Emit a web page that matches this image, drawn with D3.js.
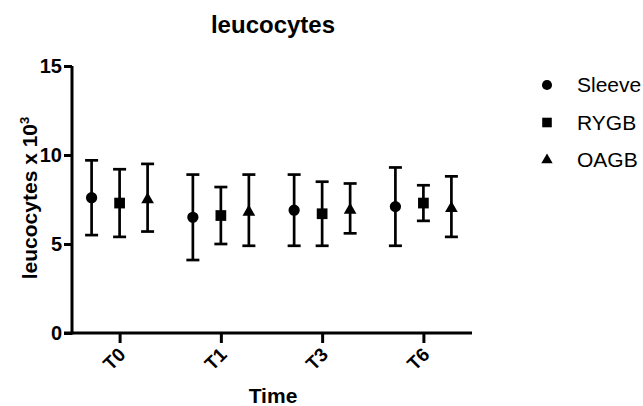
<!doctype html>
<html lang="en">
<head>
<meta charset="utf-8">
<script src="https://d3js.org/d3.v7.min.js"></script>
<title>leucocytes</title>
<style>
  body { margin: 0; background: #fff; }
  svg { display: block; font-family: "Liberation Sans", Arial, Helvetica, sans-serif; }
  .axis path, .axis line { stroke: #000; stroke-width: 3px; }
  .axis text { font-weight: bold; font-size: 20px; fill: #000; }
  .bar { stroke: #000; stroke-width: 2.7px; fill: none; }
</style>
</head>
<body>
<div id="chart"></div>
<script>
// data
const times = ['T0', 'T1', 'T3', 'T6'];
const groups = ['Sleeve', 'RYGB', 'OAGB'];
const sleeveMean = [7.6, 6.5, 6.9, 7.1];
const sleeveLow  = [5.5, 4.1, 4.9, 4.9];
const sleeveHigh = [9.7, 8.9, 8.9, 9.3];
const rygbMean = [7.3, 6.6, 6.7, 7.3];
const rygbLow  = [5.4, 5.0, 4.9, 6.3];
const rygbHigh = [9.2, 8.2, 8.5, 8.3];
const oagbMean = [7.5, 6.8, 6.9, 7.0];
const oagbLow  = [5.7, 4.9, 5.6, 5.4];
const oagbHigh = [9.5, 8.9, 8.4, 8.8];
const yTicks = [0, 5, 10, 15];

const series = [
  {name: 'Sleeve', mean: sleeveMean, low: sleeveLow, high: sleeveHigh, sym: d3.symbolCircle, size: 100},
  {name: 'RYGB', mean: rygbMean, low: rygbLow, high: rygbHigh, sym: d3.symbolSquare, size: 115},
  {name: 'OAGB', mean: oagbMean, low: oagbLow, high: oagbHigh, sym: d3.symbolTriangle, size: 70}
];

const width = 643, height = 406;
const svg = d3.select('#chart').append('svg')
  .attr('width', width).attr('height', height);

const x = d3.scalePoint().domain(times).range([72, 471]).padding(0.47);
const xg = d3.scalePoint().domain(groups).range([-28, 28]);
const y = d3.scaleLinear().domain([0, 15]).range([333, 66]);

svg.append('g')
  .attr('class', 'axis')
  .attr('transform', 'translate(72,0)')
  .call(d3.axisLeft(y).tickValues(yTicks).tickSize(8).tickPadding(2).tickSizeOuter(0))
  .call(g => g.select('.domain').attr('d', 'M0,' + (y(0) + 1.5) + 'V' + y(15)));

const xa = svg.append('g')
  .attr('class', 'axis')
  .attr('transform', 'translate(0,333)')
  .call(d3.axisBottom(x).tickSize(10).tickSizeOuter(0))
  .call(g => g.select('.domain').attr('d', 'M64,0H472'));
xa.selectAll('text')
  .attr('x', 0).attr('y', 0)
  .attr('text-anchor', 'end')
  .attr('dy', '0.35em')
  .attr('transform', 'translate(2,18) rotate(-45)')
  .style('font-size', '19px');

// error bars and markers
series.forEach(s => {
  const g = svg.append('g');
  times.forEach((t, i) => {
    const cx = x(t) + xg(s.name);
    g.append('line').attr('class', 'bar')
      .attr('x1', cx).attr('x2', cx).attr('y1', y(s.low[i])).attr('y2', y(s.high[i]));
    [s.low[i], s.high[i]].forEach(v => {
      g.append('line').attr('class', 'bar')
        .attr('x1', cx - 6.5).attr('x2', cx + 6.5).attr('y1', y(v)).attr('y2', y(v));
    });
    g.append('path')
      .attr('d', d3.symbol().type(s.sym).size(s.size)())
      .attr('transform', 'translate(' + cx + ',' + y(s.mean[i]) + ')')
      .attr('fill', '#000');
  });
});

// titles
svg.append('text').attr('x', 273).attr('y', 33).attr('text-anchor', 'middle')
  .style('font-weight', 'bold').style('font-size', '24px').text('leucocytes');
svg.append('text').attr('x', 273).attr('y', 403).attr('text-anchor', 'middle')
  .style('font-weight', 'bold').style('font-size', '21px').text('Time');
const yl = svg.append('text')
  .attr('transform', 'translate(37,198) rotate(-90)')
  .attr('text-anchor', 'middle')
  .style('font-weight', 'bold').style('font-size', '21px');
yl.append('tspan').text('leucocytes x 10');
yl.append('tspan').attr('dy', -8).style('font-size', '13px').text('3');

// legend
const legend = svg.append('g');
series.forEach((s, i) => {
  const ly = 85 + i * 37.5;
  legend.append('path')
    .attr('d', d3.symbol().type(s.sym).size(s.size * 0.8)())
    .attr('transform', 'translate(547,' + ly + ')')
    .attr('fill', '#000');
  legend.append('text').attr('x', 577).attr('y', ly).attr('dy', '0.35em')
    .style('font-size', '21px').text(s.name);
});
</script>
</body>
</html>
